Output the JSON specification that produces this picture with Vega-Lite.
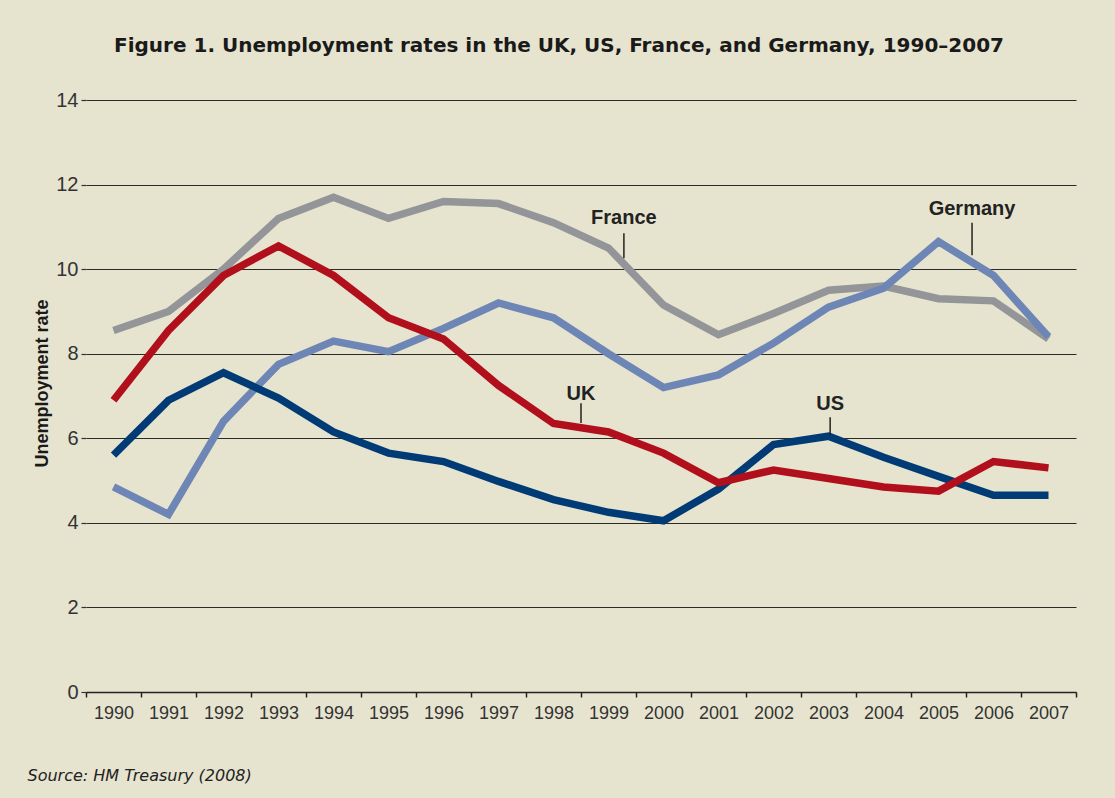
{
  "$schema": "https://vega.github.io/schema/vega-lite/v6.json",
  "width": 990,
  "height": 592,
  "autosize": {"type": "none"},
  "padding": {"left": 86, "top": 100, "right": 39, "bottom": 106},
  "background": "#e6e4cf",
  "config": {"view": {"stroke": null}},
  "title": {
    "text": "Figure 1. Unemployment rates in the UK, US, France, and Germany, 1990–2007",
    "font": "DejaVu Sans",
    "fontWeight": "bold",
    "fontSize": 20,
    "color": "#1a1a1a",
    "anchor": "middle",
    "dx": -22,
    "offset": 18,
    "baseline": "alphabetic"
  },
  "datasets": {
    "rates": [
      {"country": "France", "year": 1990, "rate": 8.55},
      {"country": "France", "year": 1991, "rate": 9.0},
      {"country": "France", "year": 1992, "rate": 10.0},
      {"country": "France", "year": 1993, "rate": 11.2},
      {"country": "France", "year": 1994, "rate": 11.7},
      {"country": "France", "year": 1995, "rate": 11.2},
      {"country": "France", "year": 1996, "rate": 11.6},
      {"country": "France", "year": 1997, "rate": 11.55},
      {"country": "France", "year": 1998, "rate": 11.1},
      {"country": "France", "year": 1999, "rate": 10.5},
      {"country": "France", "year": 2000, "rate": 9.15},
      {"country": "France", "year": 2001, "rate": 8.45},
      {"country": "France", "year": 2002, "rate": 8.95},
      {"country": "France", "year": 2003, "rate": 9.5},
      {"country": "France", "year": 2004, "rate": 9.6},
      {"country": "France", "year": 2005, "rate": 9.3},
      {"country": "France", "year": 2006, "rate": 9.25},
      {"country": "France", "year": 2007, "rate": 8.35},
      {"country": "Germany", "year": 1990, "rate": 4.85},
      {"country": "Germany", "year": 1991, "rate": 4.2},
      {"country": "Germany", "year": 1992, "rate": 6.4},
      {"country": "Germany", "year": 1993, "rate": 7.75},
      {"country": "Germany", "year": 1994, "rate": 8.3},
      {"country": "Germany", "year": 1995, "rate": 8.05},
      {"country": "Germany", "year": 1996, "rate": 8.6},
      {"country": "Germany", "year": 1997, "rate": 9.2},
      {"country": "Germany", "year": 1998, "rate": 8.85},
      {"country": "Germany", "year": 1999, "rate": 8.0},
      {"country": "Germany", "year": 2000, "rate": 7.2},
      {"country": "Germany", "year": 2001, "rate": 7.5},
      {"country": "Germany", "year": 2002, "rate": 8.25},
      {"country": "Germany", "year": 2003, "rate": 9.1},
      {"country": "Germany", "year": 2004, "rate": 9.55},
      {"country": "Germany", "year": 2005, "rate": 10.65},
      {"country": "Germany", "year": 2006, "rate": 9.85},
      {"country": "Germany", "year": 2007, "rate": 8.4},
      {"country": "US", "year": 1990, "rate": 5.6},
      {"country": "US", "year": 1991, "rate": 6.9},
      {"country": "US", "year": 1992, "rate": 7.55},
      {"country": "US", "year": 1993, "rate": 6.95},
      {"country": "US", "year": 1994, "rate": 6.15},
      {"country": "US", "year": 1995, "rate": 5.65},
      {"country": "US", "year": 1996, "rate": 5.45},
      {"country": "US", "year": 1997, "rate": 4.98},
      {"country": "US", "year": 1998, "rate": 4.55},
      {"country": "US", "year": 1999, "rate": 4.25},
      {"country": "US", "year": 2000, "rate": 4.05},
      {"country": "US", "year": 2001, "rate": 4.8},
      {"country": "US", "year": 2002, "rate": 5.85},
      {"country": "US", "year": 2003, "rate": 6.05},
      {"country": "US", "year": 2004, "rate": 5.55},
      {"country": "US", "year": 2005, "rate": 5.1},
      {"country": "US", "year": 2006, "rate": 4.65},
      {"country": "US", "year": 2007, "rate": 4.65},
      {"country": "UK", "year": 1990, "rate": 6.9},
      {"country": "UK", "year": 1991, "rate": 8.55},
      {"country": "UK", "year": 1992, "rate": 9.85},
      {"country": "UK", "year": 1993, "rate": 10.55},
      {"country": "UK", "year": 1994, "rate": 9.85},
      {"country": "UK", "year": 1995, "rate": 8.85},
      {"country": "UK", "year": 1996, "rate": 8.35},
      {"country": "UK", "year": 1997, "rate": 7.25},
      {"country": "UK", "year": 1998, "rate": 6.35},
      {"country": "UK", "year": 1999, "rate": 6.15},
      {"country": "UK", "year": 2000, "rate": 5.65},
      {"country": "UK", "year": 2001, "rate": 4.95},
      {"country": "UK", "year": 2002, "rate": 5.25},
      {"country": "UK", "year": 2003, "rate": 5.05},
      {"country": "UK", "year": 2004, "rate": 4.85},
      {"country": "UK", "year": 2005, "rate": 4.75},
      {"country": "UK", "year": 2006, "rate": 5.45},
      {"country": "UK", "year": 2007, "rate": 5.3}
    ],
    "labels": [
      {"label": "France", "year": 1999.28, "ty": 11.07, "y1": 10.26, "y2": 10.85},
      {"label": "Germany", "year": 2005.61, "ty": 11.28, "y1": 10.33, "y2": 11.1},
      {"label": "UK", "year": 1998.5, "ty": 6.9, "y1": 6.36, "y2": 6.83},
      {"label": "US", "year": 2003.03, "ty": 6.67, "y1": 6.08, "y2": 6.5}
    ]
  },
  "resolve": {"axis": {"x": "independent"}},
  "layer": [
    {
      "data": {"name": "rates"},
      "mark": {"type": "line", "strokeWidth": 7.5, "strokeCap": "butt", "strokeJoin": "miter"},
      "encoding": {
        "x": {
          "field": "year",
          "type": "quantitative",
          "scale": {"domain": [1989.5, 2007.5], "nice": false, "zero": false},
          "axis": {
            "orient": "bottom",
            "values": [1990,1991,1992,1993,1994,1995,1996,1997,1998,1999,2000,2001,2002,2003,2004,2005,2006,2007],
            "format": "d",
            "ticks": false,
            "domainColor": "#222222",
            "domainWidth": 1.5,
            "grid": false,
            "labelFont": "Liberation Sans",
            "labelFontSize": 18,
            "labelColor": "#333333",
            "labelPadding": 12,
            "labelOverlap": false,
            "labelFlush": false,
            "title": "Source: HM Treasury (2008)",
            "titleFont": "DejaVu Sans",
            "titleFontStyle": "italic",
            "titleFontWeight": "normal",
            "titleFontSize": 16,
            "titleColor": "#222222",
            "titleX": -59,
            "titleY": 88,
            "titleAlign": "left",
            "titleBaseline": "alphabetic"
          }
        },
        "y": {
          "field": "rate",
          "type": "quantitative",
          "scale": {"domain": [0, 14], "nice": false},
          "axis": {
            "values": [0, 2, 4, 6, 8, 10, 12, 14],
            "grid": true,
            "gridColor": "#2a2a2a",
            "gridWidth": 1.2,
            "domain": false,
            "tickSize": 5,
            "tickColor": "#333333",
            "tickWidth": 1.2,
            "labelFont": "Liberation Sans",
            "labelFontSize": 20,
            "labelColor": "#333333",
            "labelPadding": 3,
            "title": "Unemployment rate",
            "titleFont": "Liberation Sans",
            "titleFontWeight": "bold",
            "titleFontSize": 18,
            "titleColor": "#1a1a1a",
            "titleX": -44,
            "titleY": 283,
            "titleAngle": -90,
            "titleAlign": "center",
            "titleBaseline": "middle"
          }
        },
        "color": {
          "field": "country",
          "type": "nominal",
          "scale": {
            "domain": ["Germany", "France", "US", "UK"],
            "range": ["#6d86b5", "#939598", "#003b76", "#b10f1b"]
          },
          "legend": null
        }
      }
    },
    {
      "data": {"name": "labels"},
      "mark": {"type": "rule", "color": "#222222", "strokeWidth": 1.5},
      "encoding": {
        "x": {
          "field": "year",
          "type": "quantitative",
          "axis": {
            "orient": "bottom",
            "values": [1989.5,1990.5,1991.5,1992.5,1993.5,1994.5,1995.5,1996.5,1997.5,1998.5,1999.5,2000.5,2001.5,2002.5,2003.5,2004.5,2005.5,2006.5,2007.5],
            "labels": false,
            "domain": false,
            "grid": false,
            "ticks": true,
            "tickSize": 5,
            "tickColor": "#222222",
            "tickWidth": 1.5,
            "title": null
          }
        },
        "y": {"field": "y1", "type": "quantitative"},
        "y2": {"field": "y2"}
      }
    },
    {
      "data": {"name": "labels"},
      "mark": {"type": "text", "font": "Liberation Sans", "fontWeight": "bold", "fontSize": 20, "color": "#222222", "align": "center", "baseline": "alphabetic"},
      "encoding": {
        "x": {"field": "year", "type": "quantitative", "axis": null},
        "y": {"field": "ty", "type": "quantitative"},
        "text": {"field": "label"}
      }
    }
  ]
}
